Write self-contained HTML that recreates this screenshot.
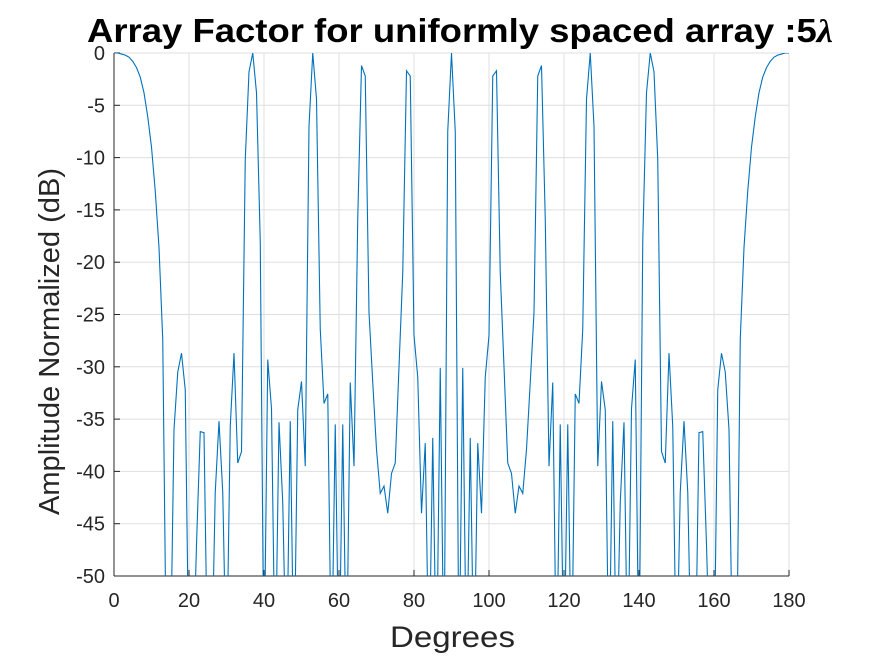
<!DOCTYPE html>
<html><head><meta charset="utf-8"><style>
body{margin:0;background:#fff;}
svg{display:block;font-family:"Liberation Sans",Arial,sans-serif;}
</style></head><body>
<svg id="chart" width="875" height="656" viewBox="0 0 875 656" xmlns="http://www.w3.org/2000/svg">
<defs><clipPath id="plotclip"><rect x="114" y="53" width="675" height="523"/></clipPath></defs>
<rect width="875" height="656" fill="#fff"/>
<text x="87" y="42" textLength="746" lengthAdjust="spacingAndGlyphs" font-size="33" font-weight="bold" fill="#000">Array Factor for uniformly spaced array :5<tspan font-family="'Liberation Serif',serif" font-style="italic">λ</tspan></text>
<g id="grid"></g>
<g id="axes"></g>
<path id="series" fill="none" stroke="#0072BD" stroke-width="1.1" clip-path="url(#plotclip)"/>
<text x="390" y="647" textLength="125" lengthAdjust="spacingAndGlyphs" font-size="30" fill="#262626">Degrees</text>
<text transform="translate(59,515) rotate(-90)" textLength="347" lengthAdjust="spacingAndGlyphs" font-size="29" fill="#262626">Amplitude Normalized (dB)</text>
</svg>
<script>
const xTicks = [0,20,40,60,80,100,120,140,160,180];
const yTicks = [0,-5,-10,-15,-20,-25,-30,-35,-40,-45,-50];
const degrees = [];
for (let i = 0; i <= 180; i++) degrees.push(i);
const amplitudeDb = [
0,0,-0.1,-0.2,-0.4,-0.8,-1.4,-2.3,-3.8,-6.1,-9.0,-13.2,-18.6,-27.4,-60,-60,-36,-30.5,-28.7,-32.2,
-60,-60,-47,-36.2,-36.3,-60,-60,-42,-35.2,-42,-60,-35.7,-28.7,-39.2,-38.1,-10.2,-1.8,0,-3.8,-18,
-60,-29.3,-34,-60,-35.3,-43,-60,-35.2,-60,-34.1,-31.4,-39.5,-7,0,-4.4,-26.4,-33.5,-32.6,-60,-35.5,
-60,-35.5,-60,-31.5,-39.5,-15.8,-1.2,-2.2,-24.8,-31.5,-37.9,-42.1,-41.4,-44,-40.2,-39.2,-30,-21,-1.7,-2.2,
-27,-31,-44,-37.3,-60,-36.8,-60,-30.1,-60,-7.5,0,
-7.5,-60,-30.1,-60,-36.8,-60,-37.3,-44,-31,-27,
-2.2,-1.7,-21,-30,-39.2,-40.2,-44,-41.4,-42.1,-37.9,-31.5,-24.8,-2.2,-1.2,-15.8,-39.5,-31.5,-60,-35.5,-60,
-35.5,-60,-32.6,-33.5,-26.4,-4.4,0,-7,-39.5,-31.4,-34.1,-60,-35.2,-60,-43,-35.3,-60,-34,-29.3,-60,
-18,-3.8,0,-1.8,-10.2,-38.1,-39.2,-28.7,-35.7,-60,-42,-35.2,-42,-60,-60,-36.3,-36.2,-47,-60,-60,
-32.2,-28.7,-30.5,-36,-60,-60,-27.4,-18.6,-13.2,-9.0,-6.1,-3.8,-2.3,-1.4,-0.8,-0.4,-0.2,-0.1,0,0
];
const X0=114, X1=789, Y0=53, Y1=576;
function xScale(v){return X0 + (v-0)/(180-0)*(X1-X0);}
function yScale(v){return Y0 + (0-v)/(0-(-50))*(Y1-Y0);}
const NS="http://www.w3.org/2000/svg";
const grid=document.getElementById('grid'), axes=document.getElementById('axes');
function mk(tag, attrs, parent){const e=document.createElementNS(NS,tag);for(const k in attrs)e.setAttribute(k,attrs[k]);parent.appendChild(e);return e;}
xTicks.forEach(t=>{
  const x=xScale(t);
  const g=mk('line',{x1:x,x2:x,y1:Y0,y2:Y1,stroke:'#dfdfdf','stroke-width':1},grid);
  
  
  const tk=mk('line',{x1:x,x2:x,y1:Y1,y2:Y1-6,stroke:'#262626','stroke-width':1},axes);
  
  
  const lb=mk('text',{x:x,y:Y1+31,'text-anchor':'middle','font-size':'20',fill:'#262626'},axes);
  lb.textContent=t;
  
  
});
yTicks.forEach(t=>{
  const y=yScale(t);
  const g=mk('line',{x1:X0,x2:X1,y1:y,y2:y,stroke:'#dfdfdf','stroke-width':1},grid);
  
  
  const tk=mk('line',{x1:X0,x2:X0+6,y1:y,y2:y,stroke:'#262626','stroke-width':1},axes);
  
  
  const lb=mk('text',{x:X0-9,y:y+7,'text-anchor':'end','font-size':'20',fill:'#262626'},axes);
  lb.textContent=t;
  
  
});
const ax1=mk('line',{x1:X0,x2:X0,y1:Y0,y2:Y1,stroke:'#262626','stroke-width':1},axes);


const ax2=mk('line',{x1:X0,x2:X1,y1:Y1,y2:Y1,stroke:'#262626','stroke-width':1},axes);


let d='';
degrees.forEach((deg,i)=>{d+=(i?'L':'M')+xScale(deg).toFixed(2)+' '+yScale(amplitudeDb[i]).toFixed(2);});
document.getElementById('series').setAttribute('d',d);
</script>
</body></html>
